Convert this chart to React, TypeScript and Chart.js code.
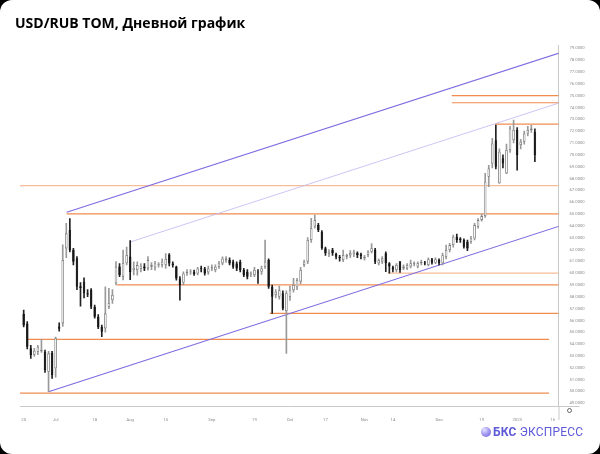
import React, { useEffect, useRef } from 'react';
import { Chart, registerables } from 'chart.js';

Chart.register(...registerables);

// Daily candles, USD/RUB TOM, index 0 = 20 Jun 2022
const openPrices = [
  56.55, 55.75, 53.65, 53.10, 53.36, 53.40, 53.36, 51.67, 53.25, 51.95,
  55.47, 55.75, 62.09, 63.64, 61.95, 61.25, 58.90, 59.28, 58.30, 58.60,
  57.16, 56.32, 55.47, 55.33, 57.16, 57.73, 59.14, 60.55, 59.70, 60.83,
  61.40, 60.26, 60.26, 60.34, 60.55, 60.40, 60.54, 60.50, 60.70, 60.68,
  60.70, 61.57, 60.82, 60.54, 59.55, 59.20, 60.00, 60.10, 60.12, 59.97,
  60.40, 60.40, 60.06, 60.40, 60.26, 60.54, 60.82, 61.10, 61.10, 60.96,
  60.82, 60.96, 60.26, 60.12, 59.90, 59.83, 60.12, 60.12, 60.54, 61.10,
  58.85, 58.14, 58.00, 58.30, 56.80, 58.00, 58.57, 58.80, 59.28, 60.69,
  60.97, 62.80, 63.93, 64.07, 63.50, 62.10, 61.62, 61.95, 61.62, 61.39,
  61.11, 61.39, 61.50, 61.60, 61.70, 61.60, 61.25, 61.53, 61.81, 61.95,
  60.83, 60.97, 61.67, 60.83, 60.50, 60.26, 60.97, 60.40, 60.40, 60.55,
  60.75, 60.55, 60.83, 60.88, 60.69, 61.17, 60.88, 61.11, 60.82, 61.38,
  61.95, 62.37, 63.07, 62.93, 62.79, 62.65, 62.65, 62.93, 63.92, 64.50,
  64.82, 68.14, 69.27, 71.24, 67.60, 69.70, 68.43, 70.40, 71.24, 72.09,
  70.82, 71.10, 71.80, 72.09, 71.95,
];
const highPrices = [
  56.88, 55.90, 53.90, 53.64, 53.90, 54.40, 53.50, 53.40, 53.40, 54.60,
  55.80, 62.40, 64.20, 64.60, 62.10, 61.40, 59.20, 59.60, 58.60, 58.70,
  57.30, 56.50, 55.60, 58.85, 58.71, 58.60, 60.97, 60.80, 61.95, 62.20,
  62.75, 60.96, 60.96, 60.80, 60.80, 61.40, 60.90, 61.00, 60.90, 61.20,
  61.66, 61.66, 60.96, 60.60, 59.70, 60.10, 60.30, 60.30, 60.25, 60.50,
  60.60, 60.50, 60.60, 60.70, 60.70, 61.00, 61.38, 61.40, 61.30, 61.10,
  60.96, 61.10, 60.40, 60.30, 60.10, 60.50, 60.30, 60.60, 62.79, 61.20,
  58.99, 58.60, 58.90, 58.50, 58.50, 58.90, 59.56, 59.56, 60.50, 61.11,
  63.00, 64.63, 64.91, 64.20, 63.60, 62.20, 62.00, 62.10, 61.70, 61.50,
  61.95, 61.60, 61.90, 61.95, 61.80, 61.70, 61.50, 61.90, 62.50, 62.10,
  61.20, 61.40, 61.80, 60.90, 60.60, 60.80, 61.00, 60.70, 60.80, 61.11,
  60.95, 60.95, 61.10, 61.00, 61.30, 61.25, 61.30, 61.20, 61.70, 62.37,
  62.51, 63.21, 63.30, 63.00, 62.90, 62.80, 63.10, 64.20, 64.60, 65.00,
  68.43, 69.10, 71.40, 72.51, 70.50, 70.00, 70.90, 72.40, 72.93, 72.30,
  71.30, 72.00, 72.40, 72.50, 72.20,
];
const lowPrices = [
  55.45, 53.60, 52.80, 52.95, 53.10, 53.30, 51.60, 49.98, 51.10, 51.20,
  55.10, 55.50, 61.30, 61.80, 60.70, 58.60, 57.20, 57.90, 58.00, 57.00,
  56.20, 55.30, 54.63, 55.00, 57.00, 57.45, 59.00, 59.70, 59.42, 60.70,
  59.45, 59.85, 59.83, 60.10, 60.20, 60.26, 60.30, 60.26, 60.50, 60.50,
  60.40, 60.60, 60.50, 59.40, 57.72, 59.00, 59.80, 59.90, 59.80, 59.85,
  60.10, 59.83, 59.90, 60.20, 60.10, 60.40, 60.70, 60.90, 60.70, 60.40,
  60.20, 60.10, 59.70, 59.50, 59.70, 59.70, 59.13, 59.90, 60.40, 58.70,
  56.60, 57.90, 57.80, 56.90, 53.21, 57.70, 58.40, 58.60, 59.10, 60.55,
  60.80, 62.60, 63.80, 63.50, 62.00, 61.50, 61.40, 61.50, 61.20, 61.00,
  60.97, 61.20, 61.30, 61.40, 61.30, 61.20, 61.10, 61.40, 61.70, 60.80,
  60.70, 60.80, 60.12, 60.00, 60.10, 60.10, 60.05, 60.30, 60.30, 60.45,
  60.60, 60.45, 60.70, 60.70, 60.60, 60.75, 60.80, 60.70, 60.70, 61.20,
  61.80, 62.20, 62.60, 62.60, 62.10, 61.90, 62.50, 62.80, 63.80, 64.40,
  64.70, 67.30, 68.90, 68.80, 67.58, 68.90, 68.40, 70.20, 71.00, 68.71,
  70.50, 70.90, 71.60, 71.90, 69.41,
];
const closePrices = [
  55.60, 53.78, 53.08, 53.44, 53.78, 53.50, 51.81, 53.22, 51.39, 54.49,
  55.30, 61.11, 63.36, 61.95, 60.97, 58.85, 58.75, 58.29, 58.20, 57.16,
  56.32, 55.42, 55.05, 56.60, 57.45, 58.15, 60.55, 59.84, 60.83, 61.53,
  60.10, 60.45, 60.68, 60.62, 60.40, 61.10, 60.68, 60.82, 60.75, 60.96,
  61.20, 60.82, 60.68, 59.55, 59.00, 59.97, 60.12, 60.12, 59.90, 60.40,
  60.35, 59.97, 60.40, 60.50, 60.54, 60.82, 61.24, 61.24, 60.82, 60.54,
  60.40, 60.26, 59.83, 59.69, 59.97, 60.26, 60.06, 60.40, 60.96, 58.85,
  58.00, 58.42, 58.56, 57.02, 58.30, 58.60, 59.00, 59.42, 60.26, 60.97,
  62.80, 63.79, 64.49, 63.64, 62.10, 61.67, 61.81, 61.67, 61.39, 61.25,
  61.53, 61.53, 61.70, 61.81, 61.53, 61.45, 61.39, 61.81, 62.10, 60.97,
  61.11, 61.25, 60.83, 60.55, 60.30, 60.69, 60.26, 60.55, 60.69, 60.83,
  60.83, 60.83, 60.97, 60.83, 61.17, 60.88, 61.17, 60.83, 61.52, 61.95,
  62.37, 63.07, 62.79, 62.79, 62.23, 62.09, 62.93, 64.06, 64.48, 64.82,
  67.72, 68.85, 70.96, 68.99, 70.26, 69.27, 70.40, 72.23, 72.09, 69.98,
  71.10, 71.80, 72.09, 72.23, 69.98,
];

// X axis: bar index of each label, and the label text
const xTickIndex = [0, 9, 20, 30, 40, 53, 65, 75, 85, 96, 104, 117, 129, 139, 149];
const xTickLabels = ['20', 'Jul', '18', 'Aug', '15', 'Sep', '19', 'Oct', '17', 'Nov', '14', 'Dec', '19', '2023', '16'];

// Y axis tick values
const yTickValues = [49, 50, 51, 52, 53, 54, 55, 56, 57, 58, 59, 60, 61, 62, 63, 64, 65, 66, 67, 68, 69, 70, 71, 72, 73, 74, 75, 76, 77, 78, 79];

// Horizontal support / resistance levels (drawn objects)
const levelValues = [67.4, 65.0, 60.0, 59.0, 56.6, 54.4, 49.85, 75.0, 74.4, 72.6];
const levelStartIdx = [-1.5, 12.1, 102.6, 26.3, 69.3, 1.2, -1.5, 120.6, 120.6, 132.8];
const levelEndIdx = [152, 152, 152, 152, 152, 148, 148, 152, 152, 152];
const levelLight = [true, false, true, false, false, false, false, false, false, false];

// Trend channel lines (start bar, start price, end bar, end price)
const trendStartIdx = [7, 12.1, 30];
const trendStartVal = [49.97, 65.14, 62.63];
const trendEndIdx = [151, 151, 151];
const trendEndVal = [63.98, 78.61, 74.4];
const trendThin = [false, false, true];

export default function App() {
  const canvasRef = useRef<HTMLCanvasElement>(null);

  useEffect(() => {
    document.body.style.margin = '0';
    const canvas = canvasRef.current;
    if (!canvas) return;

    const idx = openPrices.map((_, i) => i);
    const up = idx.map((i) => closePrices[i] >= openPrices[i]);

    const wickData = idx.map((i) => ({ x: i, y: [lowPrices[i], highPrices[i]] }));
    const bodyData = idx.map((i) => {
      const lo = Math.min(openPrices[i], closePrices[i]);
      const hi = Math.max(openPrices[i], closePrices[i]);
      if (hi - lo < 0.07) {
        const m = (hi + lo) / 2;
        return { x: i, y: [m - 0.035, m + 0.035] };
      }
      return { x: i, y: [lo, hi] };
    });

    const levelSets = levelValues.map((v, k) => ({
      type: 'line' as const,
      data: [
        { x: levelStartIdx[k], y: v },
        { x: levelEndIdx[k], y: v },
      ],
      borderColor: levelLight[k] ? '#f7bd98' : '#f08c50',
      borderWidth: 1.2,
      pointRadius: 0,
      fill: false,
      order: 5,
    }));

    const trendSets = trendStartIdx.map((s, k) => ({
      type: 'line' as const,
      data: [
        { x: s, y: trendStartVal[k] },
        { x: trendEndIdx[k], y: trendEndVal[k] },
      ],
      borderColor: trendThin[k] ? '#c2b6f2' : '#7f6ae0',
      borderWidth: trendThin[k] ? 0.8 : 1.1,
      pointRadius: 0,
      fill: false,
      order: 4,
    }));

    const extras = {
      id: 'extras',
      afterDraw(chart: any) {
        const { ctx, chartArea } = chart;
        ctx.save();
        ctx.strokeStyle = '#c9c9c9';
        ctx.lineWidth = 1;
        ctx.beginPath();
        ctx.moveTo(chartArea.right + 0.5, chartArea.bottom);
        ctx.lineTo(chartArea.right + 0.5, chartArea.bottom + 14);
        ctx.moveTo(chartArea.right, chartArea.bottom + 0.5);
        ctx.lineTo(chartArea.right + 21, chartArea.bottom + 0.5);
        ctx.stroke();
        ctx.strokeStyle = '#555';
        ctx.lineWidth = 0.9;
        ctx.beginPath();
        ctx.arc(chartArea.right + 11, chartArea.bottom + 4.5, 2, 0, Math.PI * 2);
        ctx.stroke();
        ctx.restore();
      },
    };

    const chart = new Chart(canvas, {
      type: 'bar',
      data: {
        datasets: [
          {
            data: bodyData as any,
            backgroundColor: up.map((u) => (u ? '#ffffff' : '#151515')),
            borderColor: up.map((u) => (u ? '#7a7a7a' : '#151515')),
            borderWidth: 0.8,
            borderSkipped: false,
            grouped: false,
            barPercentage: 0.72,
            categoryPercentage: 1,
            order: 1,
          } as any,
          {
            data: wickData as any,
            backgroundColor: up.map((u) => (u ? '#9a9a9a' : '#222222')),
            borderWidth: 0,
            grouped: false,
            barThickness: 1,
            order: 2,
          } as any,
          ...levelSets,
          ...trendSets,
        ] as any,
      },
      options: {
        animation: false,
        responsive: false,
        devicePixelRatio: 1,
        layout: { padding: { left: 20, top: 45, right: 0, bottom: 0 } },
        plugins: { legend: { display: false }, tooltip: { enabled: false } },
        scales: {
          x: {
            type: 'linear',
            min: -1.04,
            max: 150.65,
            offset: false,
            grid: { display: false },
            border: { display: true, color: '#c9c9c9', width: 1 },
            ticks: {
              autoSkip: false,
              maxRotation: 0,
              padding: 3,
              color: '#8a8a8a',
              font: { size: 4.2, family: 'Roboto' },
              callback: (v: any) => {
                const k = xTickIndex.indexOf(Number(v));
                return k >= 0 ? xTickLabels[k] : '';
              },
            },
            afterBuildTicks: (axis: any) => {
              axis.ticks = xTickIndex.map((v) => ({ value: v }));
            },
            afterFit: (axis: any) => {
              axis.height = 48;
            },
          },
          y: {
            type: 'linear',
            position: 'right',
            min: 48.77,
            max: 79.28,
            grid: { display: false },
            border: { display: true, color: '#c9c9c9', width: 1 },
            ticks: {
              padding: 3,
              color: '#8a8a8a',
              font: { size: 4.2, family: 'Roboto' },
              callback: (v: any) => Number(v).toFixed(4),
            },
            afterBuildTicks: (axis: any) => {
              axis.ticks = yTickValues.map((v) => ({ value: v }));
            },
            afterFit: (axis: any) => {
              axis.width = 41.5;
            },
          },
        },
      } as any,
      plugins: [extras],
    });

    return () => chart.destroy();
  }, []);

  return (
    <div style={{ position: 'relative', width: 600, height: 454, background: '#000', overflow: 'hidden' }}>
      <div
        style={{
          position: 'absolute',
          left: 0,
          top: 0,
          width: 600,
          height: 454,
          background: '#fff',
          borderRadius: 12,
        }}
      />
      <canvas ref={canvasRef} width={600} height={454} style={{ position: 'absolute', left: 0, top: 0 }} />
      <div
        style={{
          position: 'absolute',
          left: 15,
          top: 16,
          fontFamily: '"Open Sans", sans-serif',
          fontWeight: 700,
          fontSize: 14,
          lineHeight: '14px',
          color: '#000',
          whiteSpace: 'nowrap',
        }}
      >
        USD/RUB TOM, Дневной график
      </div>
      <div
        style={{
          position: 'absolute',
          left: 480.5,
          top: 427,
          width: 10,
          height: 10,
          borderRadius: '50%',
          background: 'radial-gradient(circle at 35% 30%, #e6e2ff 0%, #a59cf2 45%, #6a5ad8 100%)',
        }}
      />
      <div
        style={{
          position: 'absolute',
          left: 493,
          top: 425.5,
          fontFamily: 'Roboto, sans-serif',
          fontSize: 12,
          lineHeight: '13px',
          color: '#5f5bd8',
          whiteSpace: 'nowrap',
          letterSpacing: 0.2,
        }}
      >
        <span style={{ fontWeight: 700 }}>БКС</span> ЭКСПРЕСС
      </div>
    </div>
  );
}
